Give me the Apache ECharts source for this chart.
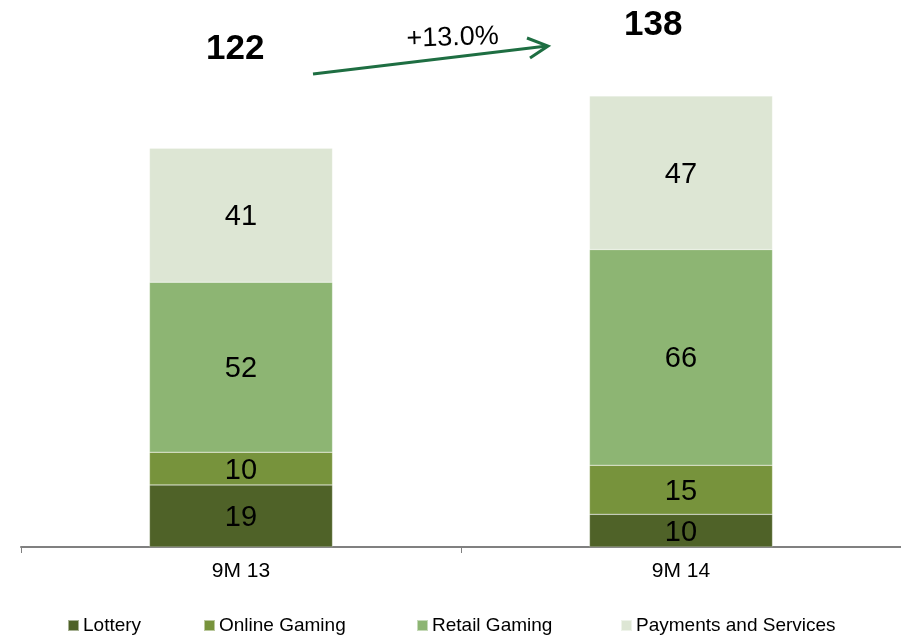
<!DOCTYPE html>
<html><head><meta charset="utf-8">
<script src="https://cdn.jsdelivr.net/npm/echarts@6/dist/echarts.min.js"></script>
<style>html,body{margin:0;padding:0;background:#fff}#c{width:901px;height:635px}</style>
</head><body><div id="c"></div>
<script>
var categories = ['9M 13', '9M 14'];
var lottery = [19, 10];
var onlineGaming = [10, 15];
var retailGaming = [52, 66];
var paymentsServices = [41, 47];
var totals = [122, 138];
var growthLabel = '+13.0%';

var names = ['Lottery', 'Online Gaming', 'Retail Gaming', 'Payments and Services'];
var colors = ['#4f6228', '#77933c', '#8db573', '#dde6d4'];
var values = [lottery, onlineGaming, retailGaming, paymentsServices];

var chart = echarts.init(document.getElementById('c'));
var font = 'Liberation Sans, Arial, sans-serif';
var series = names.map(function (n, i) {
  return {
    name: n, type: 'bar', stack: 'total', barWidth: '41.6%',
    data: values[i],
    itemStyle: { color: colors[i], borderColor: 'rgba(255,255,255,0.5)', borderWidth: 0.5 },
    label: { show: true, position: 'inside', offset: [0, 2], color: '#000', fontSize: 29, fontFamily: font },
    emphasis: { disabled: true }
  };
});
var legendLefts = [62, 198, 411, 615];
var legends = names.map(function (n, i) {
  return {
    data: [n], left: legendLefts[i], top: 611, itemWidth: 11, itemHeight: 11, itemGap: 0,
    icon: 'rect', textStyle: { fontSize: 19, fontFamily: font, color: '#000', padding: [0, 0, 0, -1] },
    selectedMode: false
  };
});
chart.setOption({
  animation: false,
  grid: { left: 21, right: 0, top: 24, bottom: 88 },
  legend: legends,
  xAxis: {
    type: 'category', data: categories,
    axisLine: { lineStyle: { color: '#808080', width: 2 } },
    axisTick: { show: true, length: 6, lineStyle: { color: '#808080', width: 1 } },
    axisLabel: { color: '#000', fontSize: 21, fontFamily: font, margin: 14 }
  },
  yAxis: { type: 'value', min: 0, max: 160, show: false, splitLine: { show: false } },
  series: series,
  graphic: [
    { type: 'text', left: 206, top: 32, style: { text: String(totals[0]), font: 'bold 35px ' + font, fill: '#000' } },
    { type: 'text', left: 624, top: 8, style: { text: String(totals[1]), font: 'bold 35px ' + font, fill: '#000' } },
    { type: 'text', left: 406, top: 23, rotation: 0.03, style: { text: growthLabel, font: '27px ' + font, fill: '#000' } },
    { type: 'line', shape: { x1: 313, y1: 74, x2: 547, y2: 46 }, style: { stroke: '#1e6e42', lineWidth: 3 } },
    { type: 'polyline', shape: { points: [[527, 38], [548, 46], [530, 58]] }, style: { stroke: '#1e6e42', lineWidth: 3, fill: null } }
  ]
});
</script></body></html>
